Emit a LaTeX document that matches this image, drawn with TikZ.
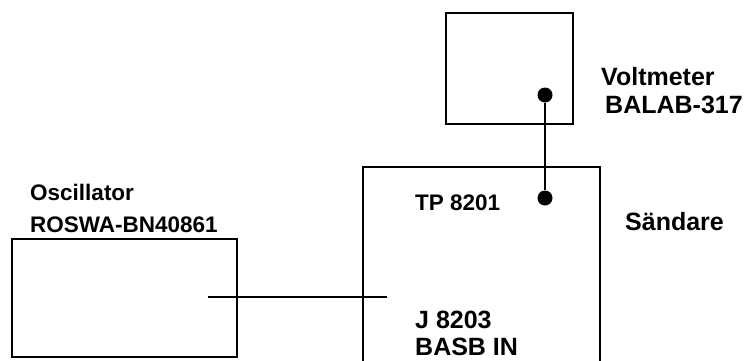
\documentclass[tikz,border=0pt]{standalone}
\usepackage{fontspec}
\setmainfont{Liberation Sans}
\usetikzlibrary{calc}

\tikzset{
  unit/.style={line width=2.4pt},
  wire/.style={line width=1.4pt},
  label/.style={anchor=base west,inner sep=0pt,font=\fontsize{25}{29}\selectfont\bfseries},
  small label/.style={label,font=\fontsize{22.5}{27}\selectfont\bfseries},
  probe/.style={circle,fill=black,inner sep=0pt,minimum size=15pt}
}

\begin{document}
\begin{tikzpicture}[x=1pt,y=-1pt]
\useasboundingbox (0,0) rectangle (744,360);
\clip (0,0) rectangle (744,360);

% instruments
\draw[unit] (12,239) rectangle (237,357);
\draw[unit] (446,13) rectangle (573,124);
\draw[unit] (363,167) rectangle (600,375);

% test points
\node[probe] (vm) at (545,95) {};
\node[probe] (tp) at (545,198) {};
\coordinate (oscout) at (208,297);
\coordinate (jin) at (387,297);

\draw[wire] (vm) -- (tp);
\draw[wire] (oscout) -- (jin);

% texts
\node[label] (vmname) at (601,85) {Voltmeter};
\node[label] (vmtype) at (605,113) {BALAB-317};
\node[small label] (oscname) at (30,200) {Oscillator};
\node[small label] (osctype) at (30,232) {ROSWA-BN40861};
\node[small label] (tpname) at (415,210) {TP 8201};
\node[label] (txname) at (625,230) {Sändare};
\node[label] (jname) at (415,328) {J 8203};
\node[label] (jtype) at (415,355) {BASB IN};

\end{tikzpicture}
\end{document}
